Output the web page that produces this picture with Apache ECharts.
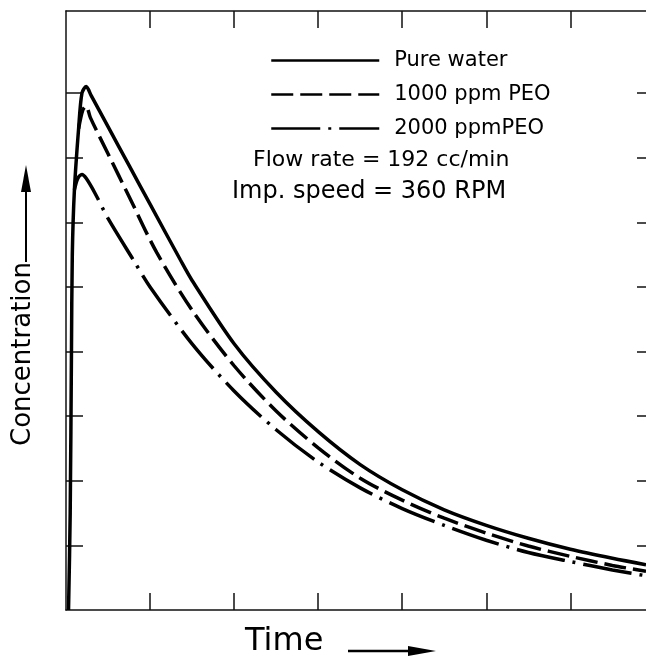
<!DOCTYPE html>
<html><head><meta charset="utf-8">
<script src="https://cdn.jsdelivr.net/npm/echarts@6/dist/echarts.min.js"></script>
<style>html,body{margin:0;padding:0;background:#fff}#c{width:646px;height:659px}</style>
</head><body><div id="c"></div>
<script>
// ---- data ----
const seriesNames = ['Pure water', '1000 ppm PEO', '2000 ppmPEO'];
const timeWater = [0.03, 0.05, 0.065, 0.075, 0.10, 0.15, 0.19, 0.24, 0.30, 0.5, 0.75, 1.0, 1.36, 1.5, 2.0, 2.5, 3.0, 3.5, 4.0, 4.5, 5.0, 5.5, 6.0, 6.5, 6.9];
const concWater = [0, 1.5, 4.0, 5.5, 6.5, 7.45, 8.0, 8.10, 7.96, 7.48, 6.88, 6.28, 5.42, 5.10, 4.12, 3.37, 2.76, 2.25, 1.86, 1.55, 1.31, 1.11, 0.94, 0.80, 0.70];
const time1000 = [0.15, 0.20, 0.24, 0.29, 0.5, 0.75, 1.08, 1.5, 2.0, 2.5, 3.0, 3.5, 4.0, 4.5, 5.0, 5.5, 6.0, 6.5, 6.9];
const conc1000 = [7.45, 7.74, 7.80, 7.62, 7.06, 6.40, 5.53, 4.64, 3.78, 3.08, 2.51, 2.04, 1.70, 1.42, 1.19, 0.99, 0.83, 0.69, 0.60];
const time2000 = [0.10, 0.14, 0.19, 0.24, 0.345, 0.5, 0.8, 1.0, 1.5, 2.0, 2.5, 3.0, 3.5, 4.0, 4.5, 5.0, 5.5, 6.0, 6.5, 6.9];
const conc2000 = [6.50, 6.68, 6.74, 6.68, 6.45, 6.06, 5.42, 5.00, 4.12, 3.39, 2.79, 2.29, 1.89, 1.57, 1.31, 1.08, 0.89, 0.75, 0.62, 0.53];
const xTicks = [1, 2, 3, 4, 5, 6];
const yTicks = [1, 2, 3, 4, 5, 6, 7, 8];
const xMax = 6.9, yMax = 9.27;
const noteLines = ['Flow rate = 192 cc/min', 'Imp. speed = 360 RPM'];
const xTitle = 'Time', yTitle = 'Concentration';

// ---- chart ----
const FONT = 'DejaVu Sans';
const pairs = (xs, ys) => xs.map((x, i) => [x, ys[i]]);
const lineSty = { color: '#111', width: 1.5 };
const tick = (vals, len) => ({ show: true, inside: true, length: len, customValues: vals, lineStyle: lineSty });
const xa = (pos) => ({ type: 'value', position: pos, min: 0, max: xMax, interval: 1,
  axisLine: { show: true, onZero: false, lineStyle: lineSty }, axisTick: tick(xTicks, 17),
  axisLabel: { show: false }, splitLine: { show: false } });
const ya = (pos, showLine, len) => ({ type: 'value', position: pos, min: 0, max: yMax,
  axisLine: { show: showLine, onZero: false, lineStyle: lineSty }, axisTick: tick(yTicks, len),
  axisLabel: { show: false }, splitLine: { show: false } });
const line = (name, xs, ys, type) => ({
  type: 'line', name, data: pairs(xs, ys), symbol: 'none', showSymbol: false,
  smooth: 0.3, clip: true, silent: true,
  lineStyle: { color: '#000', width: 3.5, type, cap: 'butt' }, itemStyle: { color: 'rgba(0,0,0,0)' }
});

const chart = echarts.init(document.getElementById('c'), null, { renderer: 'canvas' });
chart.setOption({
  animation: false,
  backgroundColor: '#fff',
  grid: { left: 66, right: 0, top: 11, bottom: 49, containLabel: false },
  xAxis: [xa('bottom'), xa('top')],
  yAxis: [ya('left', true, 17), ya('right', false, 9)],
  legend: {
    orient: 'vertical', left: 270, top: 50, padding: 0, itemWidth: 108, itemHeight: 14, itemGap: 13,
    data: seriesNames, selectedMode: false,
    itemStyle: { opacity: 0 }, lineStyle: { width: 2.5 },
    textStyle: { fontFamily: FONT, fontSize: 21, color: '#000', padding: [0, 0, 0, 10] }
  },
  series: [
    line(seriesNames[0], timeWater, concWater, 'solid'),
    line(seriesNames[1], time1000, conc1000, [22, 7]),
    line(seriesNames[2], time2000, conc2000, [49, 8, 3, 8])
  ],
  graphic: [
    { type: 'text', x: 253, y: 160, style: { text: noteLines[0], font: '22px "DejaVu Sans"', fill: '#000', textVerticalAlign: 'middle' } },
    { type: 'text', x: 232, y: 192, style: { text: noteLines[1], font: '24px "DejaVu Sans"', fill: '#000', textVerticalAlign: 'middle' } },
    { type: 'text', x: 23, y: 354, rotation: Math.PI / 2,
      style: { text: yTitle, font: '26px "DejaVu Sans"', fill: '#000', textAlign: 'center', textVerticalAlign: 'middle' } },
    { type: 'line', shape: { x1: 26, y1: 262, x2: 26, y2: 190 }, style: { stroke: '#000', lineWidth: 2 } },
    { type: 'polygon', shape: { points: [[26, 165], [21, 192], [31, 192]] }, style: { fill: '#000' } },
    { type: 'text', x: 245, y: 658, style: { text: xTitle, font: '32px "DejaVu Sans"', fill: '#000', textAlign: 'left', textVerticalAlign: 'bottom' } },
    { type: 'line', shape: { x1: 348, y1: 651, x2: 412, y2: 651 }, style: { stroke: '#000', lineWidth: 2.5 } },
    { type: 'polygon', shape: { points: [[408, 646], [436, 651], [408, 656]] }, style: { fill: '#000' } }
  ]
});
</script></body></html>
